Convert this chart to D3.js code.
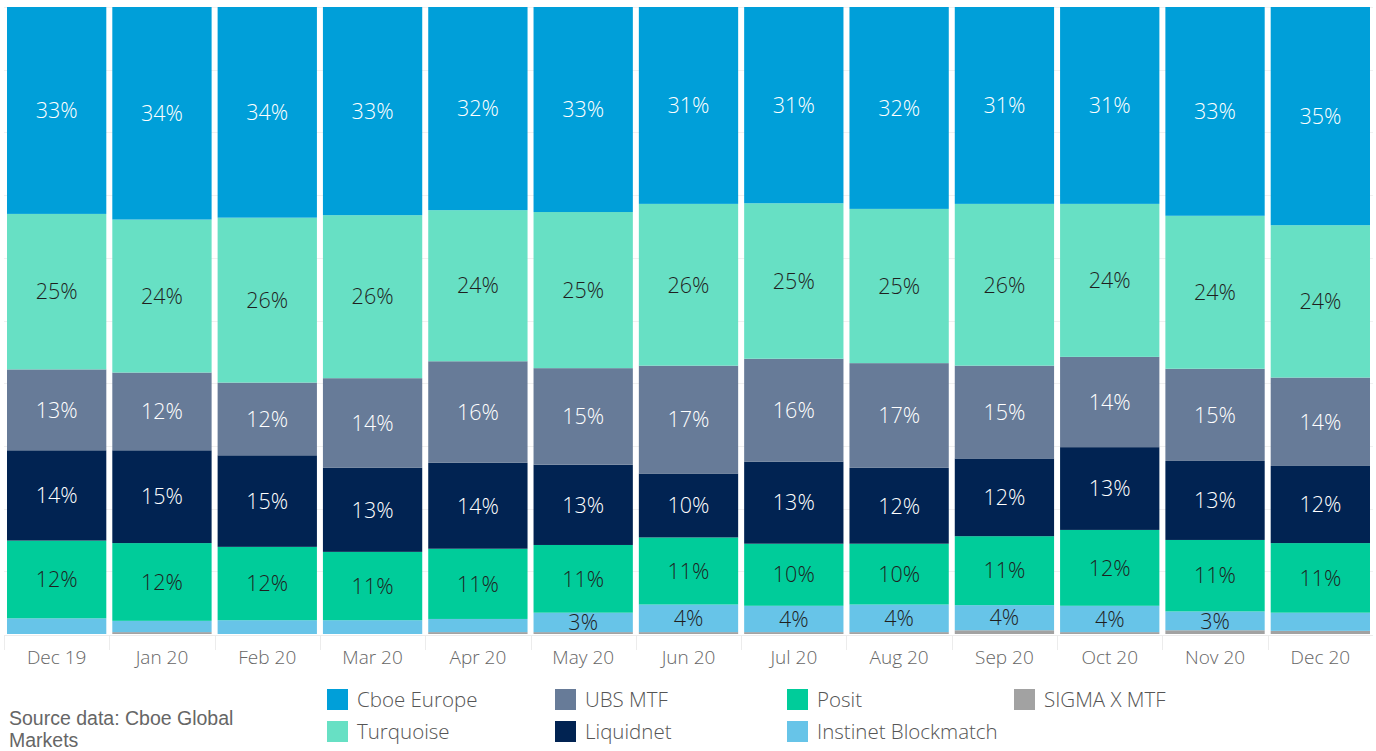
<!DOCTYPE html>
<html>
<head>
<meta charset="utf-8">
<script src="https://cdn.jsdelivr.net/npm/d3@7"></script>
<style>
  body { margin: 0; background: #fff; }
  svg { display: block; }
  .val { font-family: "Open Sans", sans-serif; font-size: 21.5px; font-weight: 300; }
  .axis text { font-family: "Open Sans", sans-serif; font-size: 19px; fill: #666; font-weight: 300; }
  .legend text { font-family: "Open Sans", sans-serif; font-size: 20.5px; fill: #555; font-weight: 300; }
  .source { font-family: "Liberation Sans", Arial, sans-serif; font-size: 19.5px; fill: #666; }
</style>
</head>
<body>
<svg id="chart" width="1376" height="751"></svg>
<script>
// months on the x axis
var months = ["Dec 19","Jan 20","Feb 20","Mar 20","Apr 20","May 20","Jun 20",
              "Jul 20","Aug 20","Sep 20","Oct 20","Nov 20","Dec 20"];

// venues, stacked from the bottom up
var venues = ["SIGMA X MTF","Instinet Blockmatch","Posit","Liquidnet","UBS MTF","Turquoise","Cboe Europe"];

// share of volume, % per month
var sigmaX    = [0.0, 0.3, 0.0, 0.0, 0.3, 0.3, 0.3, 0.3, 0.3, 0.6, 0.3, 0.6, 0.5];
var instinet  = [2.5, 1.8, 2.2, 2.2, 2.1, 3.1, 4.4, 4.2, 4.4, 4.0, 4.2, 3.0, 2.9];
var posit     = [12.4, 12.4, 11.7, 10.9, 11.2, 10.8, 10.7, 9.9, 9.7, 11.0, 12.1, 11.4, 11.1];
var liquidnet = [14.4, 14.8, 14.6, 13.4, 13.7, 12.8, 10.2, 13.1, 12.1, 12.4, 13.2, 12.6, 12.3];
var ubsMtf    = [12.9, 12.4, 11.6, 14.3, 16.2, 15.4, 17.2, 16.4, 16.7, 14.8, 14.4, 14.7, 14.1];
var turquoise = [24.8, 24.4, 26.3, 26.0, 24.1, 24.9, 25.8, 24.8, 24.6, 25.8, 24.4, 24.4, 24.3];
var cboe      = [33.0, 33.9, 33.6, 33.2, 32.4, 32.7, 31.4, 31.3, 32.2, 31.4, 31.4, 33.3, 34.8];

// legend order (column-wise, two rows)
var legendOrder = ["Cboe Europe","Turquoise","UBS MTF","Liquidnet","Posit","Instinet Blockmatch","SIGMA X MTF"];

var colors = {
  "Cboe Europe": "#009fd9",
  "Turquoise": "#67e0c4",
  "UBS MTF": "#677b98",
  "Liquidnet": "#012352",
  "Posit": "#00cc9a",
  "Instinet Blockmatch": "#67c4e8",
  "SIGMA X MTF": "#a2a2a2"
};
var darkText = {"Turquoise": true, "Posit": true, "Instinet Blockmatch": true};

var series = [sigmaX, instinet, posit, liquidnet, ubsMtf, turquoise, cboe];

var rows = months.map(function(m, i) {
  var r = {month: m};
  venues.forEach(function(v, j) { r[v] = series[j][i]; });
  return r;
});

var stack = d3.stack().keys(venues).offset(d3.stackOffsetExpand);
var layers = stack(rows);

var svg = d3.select("#chart");

var x = d3.scaleBand()
  .domain(months)
  .range([4, 1373])
  .paddingInner(0.057)
  .paddingOuter(0.0285);

var y = d3.scaleLinear()
  .domain([0, 1])
  .range([634, 7]);

// faint gridlines every 10%
svg.append("g")
  .selectAll("line")
  .data(d3.range(0.1, 1.0001, 0.1))
  .enter().append("line")
  .attr("x1", 4).attr("x2", 1373)
  .attr("y1", function(d) { return Math.round(y(d)) + 0.5; })
  .attr("y2", function(d) { return Math.round(y(d)) + 0.5; })
  .attr("stroke", "#f0f0f0");

// header dividers under the bars
var divs = svg.append("g");
divs.append("line")
  .attr("x1", 4).attr("x2", 1373)
  .attr("y1", 635.5).attr("y2", 635.5)
  .attr("stroke", "#ececec");
divs.selectAll("line.sep")
  .data(months)
  .enter().append("line")
  .attr("class", "sep")
  .attr("x1", function(d) { return Math.round(x(d) - x.step() * 0.057 / 2) + 0.5; })
  .attr("x2", function(d) { return Math.round(x(d) - x.step() * 0.057 / 2) + 0.5; })
  .attr("y1", 635).attr("y2", 650)
  .attr("stroke", "#ececec");

var groups = svg.append("g")
  .selectAll("g")
  .data(layers)
  .enter().append("g")
  .attr("fill", function(d) { return colors[d.key]; });

groups.selectAll("rect")
  .data(function(d) { return d; })
  .enter().append("rect")
  .attr("x", function(d) { return x(d.data.month); })
  .attr("width", x.bandwidth())
  .attr("y", function(d) { return y(d[1]); })
  .attr("height", function(d) { return y(d[0]) - y(d[1]); });

// value labels
var labels = svg.append("g");
layers.forEach(function(layer) {
  layer.forEach(function(d) {
    var v = d.data[layer.key];
    if (v < 3) return;
    labels.append("text")
      .attr("class", "val")
      .attr("x", x(d.data.month) + x.bandwidth() / 2)
      .attr("y", (y(d[0]) + y(d[1])) / 2)
      .attr("dy", "0.36em")
      .attr("text-anchor", "middle")
      .attr("fill", darkText[layer.key] ? "#1f1f1f" : "#ffffff")
      .text(Math.round(v) + "%");
  });
});

// x axis
var xAxis = svg.append("g")
  .attr("class", "axis")
  .attr("transform", "translate(0,650)")
  .call(d3.axisBottom(x).tickSize(0).tickPadding(0));
xAxis.select(".domain").remove();
xAxis.selectAll("text").attr("dy", "0.36em").attr("y", 7);

// legend
var legend = svg.append("g").attr("class", "legend");
var colX = [327, 555, 787, 1014];
legendOrder.forEach(function(name, i) {
  var cx = colX[Math.floor(i / 2)],
      cy = 689 + (i % 2) * 32;
  legend.append("rect")
    .attr("x", cx).attr("y", cy)
    .attr("width", 21).attr("height", 21)
    .attr("fill", colors[name]);
  legend.append("text")
    .attr("x", cx + 30)
    .attr("y", cy + 11)
    .attr("dy", "0.36em")
    .text(name);
});

// source note
svg.append("text").attr("class", "source")
  .attr("x", 9).attr("y", 725).text("Source data: Cboe Global");
svg.append("text").attr("class", "source")
  .attr("x", 9).attr("y", 747).text("Markets");
</script>
</body>
</html>
